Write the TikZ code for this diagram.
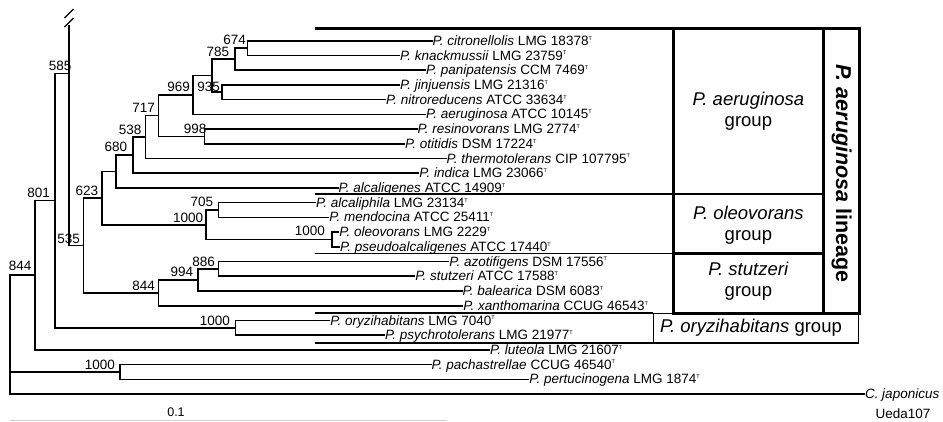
\documentclass[tikz,border=0pt]{standalone}
\usepackage{fontspec}
\setmainfont{Liberation Sans}
\newcommand\tT{\raisebox{5.2pt}{\fontsize{5.5}{6}\selectfont T}}
\tikzset{
  treeedge/.style={line width=1.6pt, line join=miter, line cap=rect},
  leaflabel/.style={anchor=base west, inner sep=0pt, xshift=0.8pt, yshift=-4.6pt, font=\fontsize{13.5}{15}\selectfont},
  bootlabel/.style={anchor=base east, inner sep=0pt, font=\fontsize{13.5}{15}\selectfont},
  grouplabel/.style={align=center, inner sep=0pt, font=\fontsize{18.5}{21}\selectfont},
  boxline/.style={line width=2.4pt},
  sepline/.style={line width=1.7pt},
  thinbox/.style={line width=1.5pt},
}
\begin{document}
\begin{tikzpicture}[x=1pt,y=-1pt]
\useasboundingbox (0,0) rectangle (943,421);
% leaves
\foreach \i/\x/\y/\txt in {
 0/431.7/40.7/{\textit{P. citronellolis} LMG 18378\tT},
 1/399/55.4/{\textit{P. knackmussii} LMG 23759\tT},
 2/425/70.1/{\textit{P. panipatensis} CCM 7469\tT},
 3/399/84.9/{\textit{P. jinjuensis} LMG 21316\tT},
 4/385/99.6/{\textit{P. nitroreducens} ATCC 33634\tT},
 5/425/114.3/{\textit{P. aeruginosa} ATCC 10145\tT},
 6/416.7/129/{\textit{P. resinovorans} LMG 2774\tT},
 7/404/143.7/{\textit{P. otitidis} DSM 17224\tT},
 8/445.7/158.5/{\textit{P. thermotolerans} CIP 107795\tT},
 9/418.3/173.2/{\textit{P. indica} LMG 23066\tT},
 10/337.7/187.9/{\textit{P. alcaligenes} ATCC 14909\tT},
 11/315/202.6/{\textit{P. alcaliphila} LMG 23134\tT},
 12/328.3/217.3/{\textit{P. mendocina} ATCC 25411\tT},
 13/338.3/232.1/{\textit{P. oleovorans} LMG 2229\tT},
 14/339/246.8/{\textit{P. pseudoalcaligenes} ATCC 17440\tT},
 15/448.3/261.5/{\textit{P. azotifigens} DSM 17556\tT},
 16/414.3/276.2/{\textit{P. stutzeri} ATCC 17588\tT},
 17/461.7/290.9/{\textit{P. balearica} DSM 6083\tT},
 18/462.3/305.7/{\textit{P. xanthomarina} CCUG 46543\tT},
 19/329.3/320.4/{\textit{P. oryzihabitans} LMG 7040\tT},
 20/384/335.1/{\textit{P. psychrotolerans} LMG 21977\tT},
 21/489/349.8/{\textit{P. luteola} LMG 21607\tT},
 22/430.7/364.5/{\textit{P. pachastrellae} CCUG 46540\tT},
 23/528.3/379.3/{\textit{P. pertucinogena} LMG 1874\tT},
 24/864/394/{\textit{C. japonicus}}}{
  \coordinate (L\i) at (\x,\y);
  \node[leaflabel] (t\i) at (L\i) {\txt};
}
\node[anchor=base, inner sep=0pt, font=\fontsize{13.5}{15}\selectfont] (ueda) at (903,418.6) {Ueda107};
% internal nodes
\coordinate (n674) at (247.3,48.05);
\coordinate (n785) at (234.7,59.05);
\coordinate (n935) at (221.7,92.25);
\coordinate (nA) at (212,75.65);
\coordinate (n969) at (192.7,94.95);
\coordinate (n998) at (204.3,136.35);
\coordinate (n717) at (158.3,115.65);
\coordinate (n538) at (145.3,137.1);
\coordinate (n680) at (132.7,155.15);
\coordinate (nB) at (115.7,171.5);
\coordinate (n705) at (218.3,209.95);
\coordinate (n1000b) at (331.7,239.45);
\coordinate (nOleo) at (206,224.7);
\coordinate (n623) at (101.7,198.1);
\coordinate (n886) at (218.3,268.85);
\coordinate (n994) at (197.7,279.9);
\coordinate (n844s) at (158.3,292.8);
\coordinate (n535) at (83.3,245.45);
\coordinate (brk) at (69,25.5);
\coordinate (nX) at (69,73.3);
\coordinate (n1000o) at (235.3,327.75);
\coordinate (n585) at (55,200.5);
\coordinate (n801) at (35,275.15);
\coordinate (n1000p) at (120,371.9);
\coordinate (root) at (10,275.15);
% edges
\draw[treeedge] (L0) -| (n674) |- (L1);
\draw[treeedge] (n674) -| (n785) |- (L2);
\draw[treeedge] (L3) -| (n935) |- (L4);
\draw[treeedge] (n785) -| (nA) |- (n935);
\draw[treeedge] (nA) -| (n969) |- (L5);
\draw[treeedge] (L6) -| (n998) |- (L7);
\draw[treeedge] (n969) -| (n717) |- (n998);
\draw[treeedge] (n717) -| (n538) |- (L8);
\draw[treeedge] (n538) -| (n680) |- (L9);
\draw[treeedge] (n680) -| (nB) |- (L10);
\draw[treeedge] (L11) -| (n705) |- (L12);
\draw[treeedge] (L13) -| (n1000b) |- (L14);
\draw[treeedge] (n705) -| (nOleo) |- (n1000b);
\draw[treeedge] (nB) -| (n623) |- (nOleo);
\draw[treeedge] (L15) -| (n886) |- (L16);
\draw[treeedge] (n886) -| (n994) |- (L17);
\draw[treeedge] (n994) -| (n844s) |- (L18);
\draw[treeedge] (n623) -| (n535) |- (n844s);
\draw[treeedge] (brk) -| (nX) |- (n535);
\draw[treeedge] (L19) -| (n1000o) |- (L20);
\draw[treeedge] (nX) -| (n585) |- (n1000o);
\draw[treeedge] (n585) -| (n801) |- (L21);
\draw[treeedge] (L22) -| (n1000p) |- (L23);
\draw[treeedge] (n801) -| (root) |- (L24);
\draw[treeedge] (root) |- (n1000p);
% break mark
\draw[line width=1.4pt] (64.5,18) -- (73.5,9);
\draw[line width=1.4pt] (64.5,27) -- (73.5,18);
% bootstrap values
\node[bootlabel] (b674) at (246,44.3) {674};
\node[bootlabel] (b785) at (229.3,56.5) {785};
\node[bootlabel] (b969) at (190,91.7) {969};
\node[bootlabel] (b935) at (220,91.5) {935};
\node[bootlabel] (b717) at (155,112.7) {717};
\node[bootlabel] (b998) at (206.7,133.3) {998};
\node[bootlabel] (b538) at (141.7,134) {538};
\node[bootlabel] (b680) at (127.3,151.7) {680};
\node[bootlabel] (b623) at (98.3,195) {623};
\node[bootlabel] (b585) at (71.7,70) {585};
\node[bootlabel] (b801) at (50,197.5) {801};
\node[bootlabel] (b844r) at (31.7,270.7) {844};
\node[bootlabel] (b535) at (80,243) {535};
\node[bootlabel] (b705) at (213.3,206.5) {705};
\node[bootlabel] (b1000a) at (203.3,222.2) {1000};
\node[bootlabel] (b1000b) at (325,235) {1000};
\node[bootlabel] (b886) at (215,266) {886};
\node[bootlabel] (b994) at (193.3,276.7) {994};
\node[bootlabel] (b844s) at (155,290) {844};
\node[bootlabel] (b1000o) at (230,325.5) {1000};
\node[bootlabel] (b1000p) at (115,369) {1000};
% group separators and boxes
\draw[boxline] (315,28.3) -- (673.3,28.3);
\draw[sepline] (315,194) -- (673.3,194);
\draw[sepline] (315,253.5) -- (673.3,253.5);
\draw[sepline] (315,313.3) -- (653.3,313.3);
\draw[thinbox] (315,343) -- (653.3,343);
\draw[boxline] (673.3,28.3) rectangle (823.5,313.3);
\draw[boxline] (673.3,194) -- (823.5,194);
\draw[boxline] (673.3,253.5) -- (823.5,253.5);
\draw[boxline] (823.5,28.3) rectangle (859.3,313.3);
\draw[thinbox] (653.3,313.3) rectangle (858.5,343);
\node[grouplabel] (gA) at (748.4,111.2) {\textit{P. aeruginosa}\\group};
\node[grouplabel] (gO) at (748.4,225) {\textit{P. oleovorans}\\group};
\node[grouplabel] (gS) at (748.4,281.5) {\textit{P. stutzeri}\\group};
\node[grouplabel] (gR) at (751,328.2) {\textit{P. oryzihabitans} group};
\node[rotate=-90, inner sep=0pt, font=\fontsize{21.5}{24}\selectfont\bfseries] (lin) at (841.6,173.5) {\textit{P. aeruginosa} lineage};
% scale bar
\draw[line width=1.5pt, black!18] (10,420.3) coordinate (s0) -- (447,420.3) coordinate (s1);
\node[anchor=base, inner sep=0pt, font=\fontsize{12.5}{14}\selectfont] (scl) at (176,416.8) {0.1};
\end{tikzpicture}
\end{document}
